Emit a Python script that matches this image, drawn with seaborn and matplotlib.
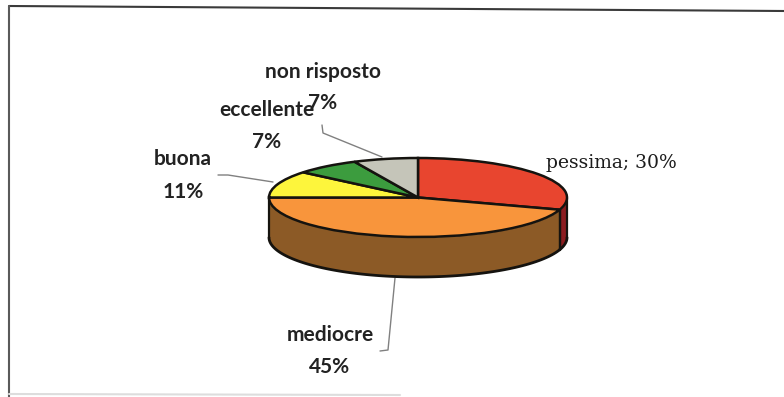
import numpy as np
import seaborn as sns
import matplotlib
matplotlib.use("Agg")
import matplotlib.pyplot as plt

categories = ["pessima", "mediocre", "buona", "eccellente", "non risposto"]
shares = [30, 45, 11, 7, 7]
top_colors = ["#e8452f", "#f8953c", "#fdf53c", "#3c9c3e", "#c5c5b9"]
side_colors = ["#8c1c20", "#8c5a26", "#a09a20", "#25642a", "#7c7c74"]

W, H = 784, 397
CX, CY, RX, RY, DEPTH = 418, 197.5, 149, 39.5, 40

sns.set_theme(style="white")
plt.rcParams["font.family"] = ["Lato", "DejaVu Sans"]

fig = plt.figure(figsize=(W / 100, H / 100), dpi=100, facecolor="white")
ax = fig.add_axes([0, 0, 1, 1])

# Draw the flat pie first so its unit circle is squashed by the axis limits
wedges, _ = ax.pie(shares, colors=top_colors, startangle=90, counterclock=False, radius=1,
                   wedgeprops=dict(edgecolor="#15130f", linewidth=1.8, zorder=5))
ax.set_aspect("auto")
ax.set_xlim(-CX / RX, (W - CX) / RX)
ax.set_ylim((CY - H) / RY, CY / RY)
ax.set_frame_on(True)
for spine in ax.spines.values():
    spine.set_visible(False)


def px(x, y):
    return (x - CX) / RX, (CY - y) / RY


# Extruded rim: only the part of each slice that faces the viewer
depth = DEPTH / RY
edges = np.cumsum([0] + shares) / sum(shares) * 360
for start, end, colour in zip(edges[:-1], edges[1:], side_colors):
    lo, hi = max(start, 90), min(end, 270)
    if lo >= hi:
        continue
    t = np.radians(np.linspace(lo, hi, 120))
    xs, ys = np.sin(t), np.cos(t)
    ax.fill_between(xs, ys, ys - depth, color=colour, lw=0, zorder=2)
    ax.plot([xs[-1], xs[-1]], [ys[-1], ys[-1] - depth], color="#15130f", lw=1.6, zorder=3)
    ax.plot([xs[0], xs[0]], [ys[0], ys[0] - depth], color="#15130f", lw=1.6, zorder=3)
    ax.plot(xs, ys - depth, color="#15130f", lw=2.0, zorder=3)

# Leader lines
leaders = [
    [(218, 175), (228, 175), (273, 182)],
    [(322, 125), (323, 133), (382, 157)],
    [(395, 278), (388, 350), (380, 351)],
]
for pts in leaders:
    xy = np.array([px(*p) for p in pts])
    ax.plot(xy[:, 0], xy[:, 1], color="#808080", lw=1.0, zorder=1)

# Scanned page border, slightly tilted along the top
border = [[(9, 6), (784, 11)], [(9, 6), (9, 397)], [(9, 394), (400, 395)]]
border_cols = ["#3a3a3a", "#5a5a5a", "#dddddd"]
for seg, col in zip(border, border_cols):
    xy = np.array([px(*p) for p in seg])
    ax.plot(xy[:, 0], xy[:, 1], color=col, lw=1.5, zorder=1)

# Slice labels
sans = dict(fontsize=15, color="#222222", ha="center", va="center", fontweight="bold")
label_pos = {
    "mediocre": ((330, 335), (330, 367)),
    "buona": ((183, 159), (183, 192)),
    "eccellente": ((267, 110), (267, 142)),
    "non risposto": ((323, 72), (323, 103)),
}
for name, share in zip(categories, shares):
    if name in label_pos:
        p1, p2 = label_pos[name]
        ax.text(*px(*p1), name, zorder=8, **sans)
        ax.text(*px(*p2), f"{share}%", zorder=8, **sans)

ax.text(*px(611, 163), f"{categories[0]}; {shares[0]}%", zorder=8, fontsize=13.5,
        family="DejaVu Serif", fontweight="medium", color="#1c1c1c", ha="center", va="center")

ax.set_xticks([])
ax.set_yticks([])
fig.savefig("out.png", dpi=100)
